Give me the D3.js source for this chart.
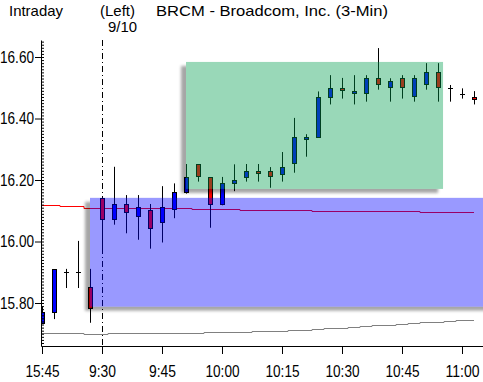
<!DOCTYPE html>
<html>
<head>
<meta charset="utf-8">
<script src="https://cdn.jsdelivr.net/npm/d3@7"></script>
<style>
  body { margin: 0; background: #fff; }
  text { font-family: "Liberation Sans", Arial, sans-serif; }
</style>
</head>
<body>
<div id="canvas"></div>
<script>
const times = ["15:45","15:48","15:51","15:54","15:57","9:30","9:33","9:36","9:39","9:42","9:45","9:48",
  "9:51","9:54","9:57","10:00","10:03","10:06","10:09","10:12","10:15","10:18","10:21","10:24",
  "10:27","10:30","10:33","10:36","10:39","10:42","10:45","10:48","10:51","10:54","10:57","11:00","11:03"];

const open = [15.735,15.772,15.902,15.902,15.851,16.140,16.072,16.122,16.082,16.101,16.062,16.105,
  16.162,16.251,16.209,16.123,16.191,16.211,16.228,16.228,16.221,16.254,16.332,16.341,
  16.471,16.498,16.482,16.482,16.531,16.501,16.531,16.472,16.511,16.550,16.498,16.480,16.469];
const high = [15.789,15.910,15.911,16.002,15.911,16.140,16.243,16.151,16.151,16.122,16.180,16.189,
  16.252,16.251,16.209,16.210,16.251,16.252,16.252,16.242,16.291,16.402,16.349,16.488,
  16.541,16.532,16.541,16.541,16.629,16.531,16.541,16.541,16.580,16.580,16.509,16.498,16.489];
const low = [15.735,15.751,15.852,15.852,15.739,15.980,16.058,16.030,16.009,15.980,16.000,16.079,
  16.159,16.198,16.048,16.121,16.167,16.198,16.198,16.178,16.198,16.227,16.279,16.341,
  16.449,16.468,16.449,16.458,16.497,16.458,16.468,16.458,16.497,16.458,16.458,16.468,16.449];
const close = [15.771,15.910,15.902,15.902,15.783,16.072,16.122,16.095,16.111,16.043,16.111,16.160,
  16.211,16.212,16.123,16.189,16.200,16.228,16.222,16.212,16.241,16.339,16.339,16.469,
  16.498,16.492,16.489,16.531,16.511,16.521,16.501,16.531,16.550,16.501,16.498,16.480,16.462];

// red average line, one value per bar
const avgRed = [16.119,16.119,16.116,16.116,16.110,16.110,16.110,16.110,16.110,16.110,16.110,16.110,
  16.110,16.105,16.105,16.105,16.105,16.101,16.101,16.101,16.101,16.101,16.101,16.098,
  16.098,16.098,16.098,16.098,16.098,16.098,16.098,16.098,16.095,16.095,16.095,16.095,16.095];
// grey average line
const avgGrey = [15.702,15.702,15.702,15.702,15.698,15.698,15.702,15.702,15.702,15.702,15.702,15.702,
  15.702,15.702,15.705,15.705,15.705,15.705,15.708,15.708,15.708,15.711,15.711,15.715,
  15.718,15.718,15.721,15.724,15.728,15.728,15.731,15.734,15.737,15.737,15.741,15.744,15.744];

// shaded zones: bar index from/to, price top/bottom
const zoneBlue = { i0: 4, i1: 38, top: 16.142, bottom: 15.788 };
const zoneGreen = { i0: 12, i1: 33.42, top: 16.584, bottom: 16.171 };

const yMajor = [15.8, 16.0, 16.2, 16.4, 16.6];
const xMajor = [0, 5, 10, 15, 20, 25, 30, 35];

const width = 483;
const height = 382;

const svg = d3.select("#canvas").append("svg")
  .attr("width", width)
  .attr("height", height);

const x = d3.scaleLinear().domain([-1 / 12, 36.75]).range([41, 483]);
const y = d3.scaleLinear().domain([15.6602, 16.6553]).range([346, 40]);
const py = (v) => Math.round(y(v)) + 0.5;
const px = (i) => Math.round(x(i)) + 0.5;

const defs = svg.append("defs");
defs.append("clipPath").attr("id", "plot")
  .append("rect").attr("x", 41).attr("y", 40).attr("width", 442).attr("height", 306);
defs.append("filter").attr("id", "blur").attr("x", "-10%").attr("y", "-10%")
  .attr("width", "120%").attr("height", "120%")
  .append("feGaussianBlur").attr("stdDeviation", 1.6);

const g = svg.append("g").attr("clip-path", "url(#plot)");

// 9:30 session start marker
g.append("line")
  .attr("x1", px(5)).attr("x2", px(5))
  .attr("y1", 40).attr("y2", 346)
  .attr("stroke", "#000")
  .attr("stroke-dasharray", "6,3,1,3");

const idx = d3.range(times.length);
const stepLine = (vals) => d3.line().curve(d3.curveStep)
  .x((i) => x(i))
  .y((i) => py(vals[i]))(idx);

g.append("path").attr("d", stepLine(avgGrey))
  .attr("fill", "none").attr("stroke", "#808080");
g.append("path").attr("d", stepLine(avgRed))
  .attr("fill", "none").attr("stroke", "#ff0000");

// candles
const candles = g.selectAll("g.candle").data(idx).enter().append("g").attr("class", "candle");
candles.append("line")
  .attr("x1", (i) => px(i)).attr("x2", (i) => px(i))
  .attr("y1", (i) => y(high[i])).attr("y2", (i) => y(low[i]) + 1)
  .attr("stroke", "#000");
candles.filter((i) => open[i] !== close[i]).append("rect")
  .attr("x", (i) => Math.round(x(i)) - 1.5)
  .attr("width", 4)
  .attr("y", (i) => Math.round(y(Math.max(open[i], close[i]))) + 0.5)
  .attr("height", (i) => Math.max(1, Math.round(y(Math.min(open[i], close[i]))) - Math.round(y(Math.max(open[i], close[i])))))
  .attr("fill", (i) => (close[i] > open[i] ? "#0000ff" : "#ff0000"))
  .attr("stroke", "#000");
candles.filter((i) => open[i] === close[i]).append("line")
  .attr("x1", (i) => Math.round(x(i)) - 2).attr("x2", (i) => Math.round(x(i)) + 3)
  .attr("y1", (i) => py(open[i])).attr("y2", (i) => py(open[i]))
  .attr("stroke", "#000");

// zones with drop shadow
function zone(z, color, id) {
  const zx = x(z.i0), zw = x(z.i1) - x(z.i0);
  const zy = y(z.top), zh = y(z.bottom) - y(z.top);
  const m = defs.append("mask").attr("id", id);
  m.append("rect").attr("x", 0).attr("y", 0).attr("width", width).attr("height", height).attr("fill", "#fff");
  m.append("rect").attr("x", zx).attr("y", zy).attr("width", zw).attr("height", zh).attr("fill", "#000");
  g.append("g").attr("mask", `url(#${id})`)
    .append("rect")
    .attr("x", zx - 5).attr("y", zy + 4).attr("width", zw).attr("height", zh)
    .attr("fill", "#000").attr("opacity", 0.35)
    .attr("filter", "url(#blur)");
  g.append("rect")
    .attr("x", zx).attr("y", zy).attr("width", zw).attr("height", zh)
    .attr("fill", color).attr("fill-opacity", 0.4);
}
zone(zoneBlue, "#0000ff", "mb");
zone(zoneGreen, "#009d4e", "mg");

// axes
svg.append("g").attr("transform", "translate(41,0)")
  .call(d3.axisLeft(y).tickValues(yMajor).tickFormat(d3.format(".2f")).tickSize(6).tickSizeOuter(0).tickPadding(1));
svg.append("g").attr("transform", "translate(41,0)")
  .call(d3.axisRight(y).tickValues(d3.range(1567, 1666).map((v) => v / 100)).tickFormat("").tickSize(3).tickSizeOuter(0))
  .select(".domain").remove();
svg.append("g").attr("transform", "translate(0,346)")
  .call(d3.axisBottom(x).tickValues(xMajor).tickFormat((i) => times[i]).tickSize(8).tickSizeOuter(0).tickPadding(12));

// narrow, fixed-pitch look of the original labels: 7px per character
svg.selectAll(".tick text")
  .attr("font-size", 16).attr("fill", "#000")
  .attr("font-family", "Liberation Sans, Arial, sans-serif")
  .attr("lengthAdjust", "spacingAndGlyphs")
  .attr("textLength", function () { return this.textContent.length * 7 - 1; });
svg.selectAll(".domain, .tick line").attr("stroke", "#000");

// header
const head = svg.append("g").attr("font-size", 15).attr("fill", "#000");
const headText = (tx, ty, s, len) => head.append("text")
  .attr("x", tx).attr("y", ty).text(s)
  .attr("lengthAdjust", "spacingAndGlyphs").attr("textLength", len);
headText(9, 16, "Intraday", 54);
headText(100, 16, "(Left)", 35);
headText(156, 16, "BRCM - Broadcom, Inc. (3-Min)", 232);
headText(108, 32, "9/10", 29);
</script>
</body>
</html>
